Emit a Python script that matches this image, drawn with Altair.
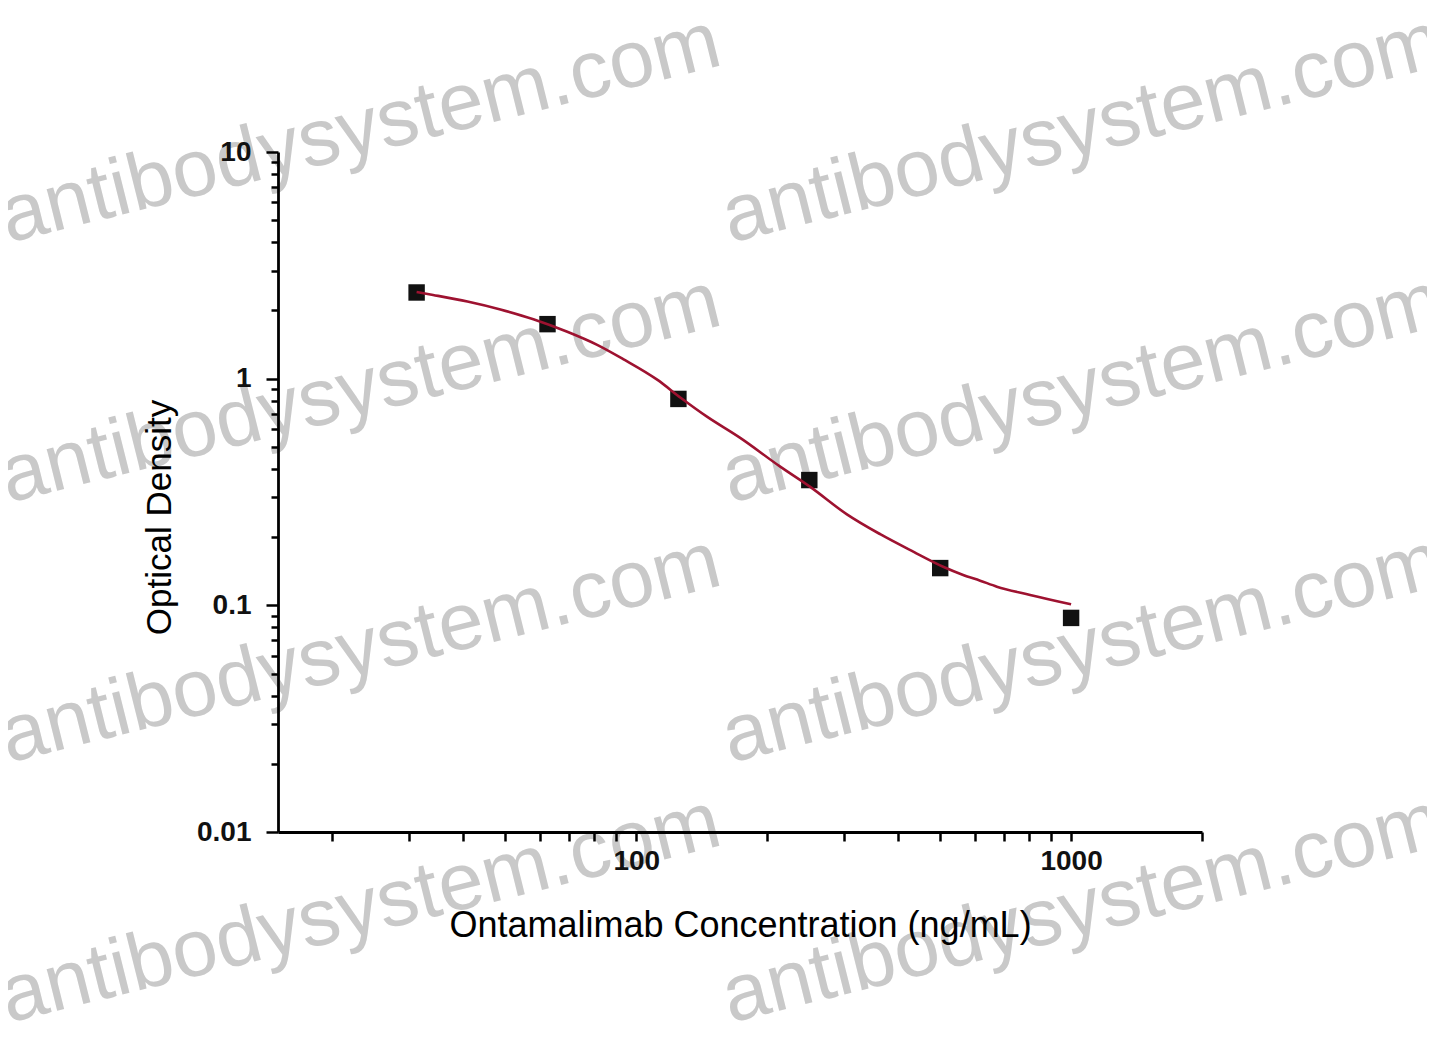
import altair as alt
import pandas as pd

# Measured standard points
conc = [31.25, 62.5, 125, 250, 500, 1000]
od = [2.40, 1.74, 0.814, 0.357, 0.146, 0.088]

# Fitted curve
fit_conc = [31.25, 34.1, 40.9, 48.7, 58.0, 69.4, 81.3, 93.3, 111.7, 126.7, 145.4,
            173.4, 214.3, 251.2, 305.1, 363.9, 433.5, 507.8, 564.6, 617.8, 674.9,
            805.0, 1000]
fit_od = [2.41, 2.34, 2.19, 2.02, 1.83, 1.61, 1.41, 1.22, 0.99, 0.822, 0.680,
          0.548, 0.409, 0.333, 0.252, 0.206, 0.1725, 0.148, 0.1362, 0.1285, 0.1209,
          0.1111, 0.101]

x_label_values = [100, 1000]
y_label_values = [0.01, 0.1, 1, 10]
x_ticks = [20, 30, 40, 50, 60, 70, 80, 90, 100, 200, 300, 400, 500, 600, 700, 800, 900, 1000, 2000]
y_ticks = [round(k * 10 ** e, 6) for e in (-2, -1, 0) for k in range(1, 10)] + [10]

watermark_text = "antibodysystem.com"

pts_df = pd.DataFrame({"conc": conc, "od": od})
fit_df = pd.DataFrame({"conc": fit_conc, "od": fit_od})

FONT = "Liberation Sans, Arial, Helvetica, sans-serif"
W, H = 924, 680
PAD = {"left": 270, "top": 144, "right": 225, "bottom": 200}

x_label_expr = "indexof(%s, datum.value) >= 0 ? datum.label : ''" % str(x_label_values)
y_label_expr = "indexof(%s, datum.value) >= 0 ? datum.label : ''" % str(y_label_values)
y_major_test = "indexof(%s, datum.value) >= 0" % str(y_label_values)

x_scale = alt.Scale(type="log", domain=[15, 2000], nice=False)
y_scale = alt.Scale(type="log", domain=[0.01, 10], nice=False)

x_axis = alt.Axis(
    values=x_ticks, labelExpr=x_label_expr, format="~g",
    title="Ontamalimab Concentration (ng/mL)", grid=False, zindex=2,
    domainColor="black", domainWidth=2.8, tickColor="black", tickWidth=2.5, tickSize=9,
    labelFont=FONT, labelFontSize=28, labelFontWeight="bold", labelColor="#111111",
    labelPadding=6, labelOverlap=False, labelFlush=False,
    titleFont=FONT, titleFontSize=36, titleFontWeight="normal", titleColor="black",
    titleY=104, titleBaseline="alphabetic",
)
y_axis = alt.Axis(
    values=y_ticks, labelExpr=y_label_expr, format="~g",
    title="Optical Density", grid=False, zindex=2,
    domainColor="black", domainWidth=2.8, tickColor="black", tickWidth=2.5,
    tickSize={"condition": {"test": y_major_test, "value": 12}, "value": 7},
    labelFont=FONT, labelFontSize=28, labelFontWeight="bold", labelColor="#111111",
    labelPadding=15, labelOverlap=False, labelFlush=False,
    titleFont=FONT, titleFontSize=35, titleFontWeight="normal", titleColor="black",
    titleAngle=270, titleAlign="center", titleBaseline="alphabetic",
    titleX=-108, titleY=365,
)

# Watermarks (decoration): anchors in pixels relative to plot origin
wm_layers = []
for wx in (-270, 452):
    for wy in (91, 351, 611, 871):
        wm_layers.append(
            alt.Chart(pd.DataFrame({"w": [0]}))
            .mark_text(text=watermark_text, font=FONT, fontSize=81, color="#c9c9c9",
                       angle=346, align="left", baseline="alphabetic")
            .encode(x=alt.value(wx), y=alt.value(wy))
        )

points = alt.Chart(pts_df).mark_square(size=270, color="#111111", opacity=1).encode(
    x=alt.X("conc:Q", scale=x_scale, axis=x_axis),
    y=alt.Y("od:Q", scale=y_scale, axis=y_axis),
)
curve = alt.Chart(fit_df).mark_line(color="#9e1230", strokeWidth=2.6, interpolate="monotone").encode(
    x=alt.X("conc:Q", scale=x_scale),
    y=alt.Y("od:Q", scale=y_scale),
)

chart = alt.layer(*wm_layers, points, curve).properties(
    width=W, height=H,
    autosize=alt.AutoSizeParams(type="none"),
    padding=PAD,
    background="white",
).configure_view(stroke=None)

chart.save("out.html", embed_options={"renderer": "svg", "actions": False})
